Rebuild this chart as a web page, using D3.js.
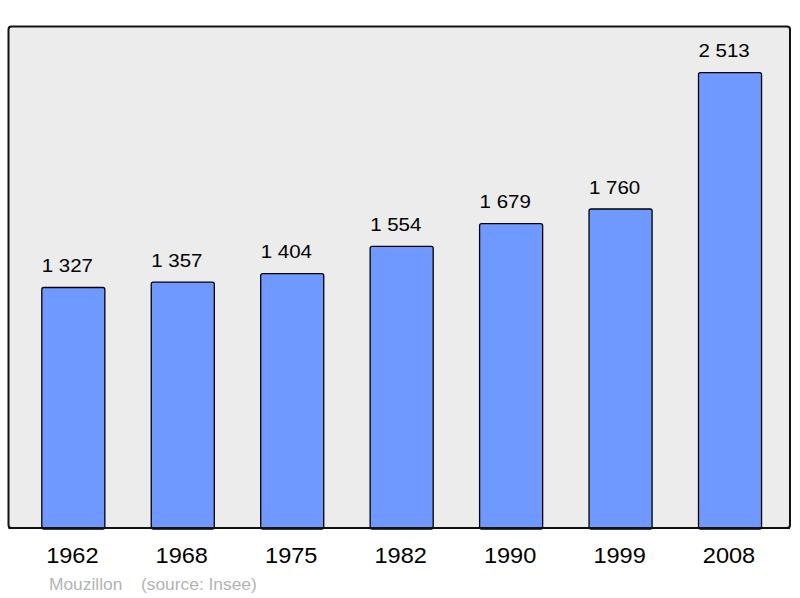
<!DOCTYPE html>
<html>
<head>
<meta charset="utf-8">
<script src="https://cdn.jsdelivr.net/npm/d3@7"></script>
<style>
  html, body { margin: 0; padding: 0; background: #ffffff; }
  text { font-family: "Liberation Sans", Arial, sans-serif; }
</style>
</head>
<body>
<div class="display"></div>
<script>
const years = ['1962', '1968', '1975', '1982', '1990', '1999', '2008'];
const population = [1327, 1357, 1404, 1554, 1679, 1760, 2513];
const valueLabels = ['1 327', '1 357', '1 404', '1 554', '1 679', '1 760', '2 513'];
const townName = 'Mouzillon';
const sourceNote = '(source: Insee)';

const config = {
  width: 800,
  height: 598,
  panel: { x: 8.5, y: 26.5, width: 781.5, height: 501.5 },
  plotTop: 27,
  plotBottom: 528,
  stretch: 1.1
};

const svg = d3.select('.display')
  .append('svg')
  .attr('width', config.width)
  .attr('height', config.height);

// grey panel
svg.append('rect')
  .attr('x', config.panel.x)
  .attr('y', config.panel.y)
  .attr('width', config.panel.width)
  .attr('height', config.panel.height)
  .attr('rx', 3)
  .attr('fill', '#ececec')
  .attr('stroke', '#111111')
  .attr('stroke-width', 2);

const x = d3.scaleBand()
  .domain(years)
  .range([18.6, 784.75])
  .paddingInner(0.424)
  .paddingOuter(0.212);

const y = d3.scaleLinear()
  .domain([0, d3.max(population) * 1.1])
  .range([config.plotBottom, config.plotTop]);

const data = years.map((yr, i) => ({ year: yr, value: population[i], label: valueLabels[i] }));

svg.selectAll('.bar')
  .data(data)
  .enter()
  .append('rect')
  .attr('class', 'bar')
  .attr('x', d => x(d.year))
  .attr('y', d => y(d.value))
  .attr('width', x.bandwidth())
  .attr('height', d => y(0) - y(d.value) + 1)
  .attr('rx', 2)
  .attr('fill', '#7099ff')
  .attr('stroke', '#000000')
  .attr('stroke-width', 1.3);

// redraw panel bottom edge over bar feet
svg.append('line')
  .attr('x1', config.panel.x)
  .attr('x2', config.panel.x + config.panel.width)
  .attr('y1', config.plotBottom)
  .attr('y2', config.plotBottom)
  .attr('stroke', '#111111')
  .attr('stroke-width', 2);

// value labels above bars
svg.selectAll('.value')
  .data(data)
  .enter()
  .append('text')
  .attr('class', 'value')
  .attr('transform', d => `translate(${x(d.year)}, ${y(d.value) - 15.3}) scale(${config.stretch}, 1)`)
  .attr('font-size', 18.6)
  .attr('fill', '#000000')
  .text(d => d.label);

// year labels under the axis
svg.selectAll('.year')
  .data(data)
  .enter()
  .append('text')
  .attr('class', 'year')
  .attr('transform', d => `translate(${x(d.year) + x.bandwidth() / 2 - 1}, 562.7) scale(${config.stretch}, 1)`)
  .attr('text-anchor', 'middle')
  .attr('font-size', 21.4)
  .attr('fill', '#000000')
  .text(d => d.year);

// footer
svg.append('text')
  .attr('transform', `translate(49, 590) scale(${config.stretch}, 1)`)
  .attr('font-size', 15.8)
  .attr('fill', '#b3b3b3')
  .text(townName);

svg.append('text')
  .attr('transform', `translate(141, 590) scale(${config.stretch}, 1)`)
  .attr('font-size', 15.8)
  .attr('fill', '#b3b3b3')
  .text(sourceNote);
</script>
</body>
</html>
